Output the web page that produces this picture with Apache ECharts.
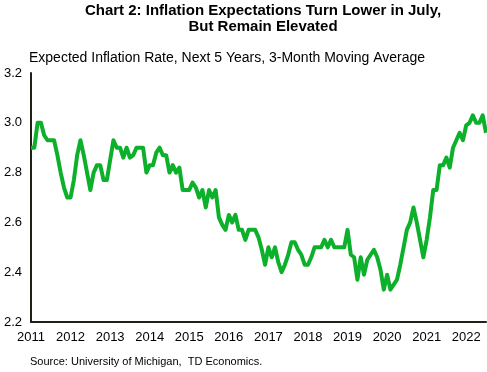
<!DOCTYPE html>
<html>
<head>
<meta charset="utf-8">
<script src="https://cdn.jsdelivr.net/npm/echarts@6/dist/echarts.min.js"></script>
<style>
html,body{margin:0;padding:0;background:#fff;}
#chart{width:487px;height:372px;}
</style>
</head>
<body>
<div id="chart"></div>
<script>
// Months Jan 2011 .. Jul 2022
var startYear = 2011;
var values2011 = [2.9, 2.9, 3.0, 3.0, 2.95, 2.93, 2.93, 2.93, 2.87, 2.8, 2.74, 2.7];
var values2012 = [2.7, 2.77, 2.87, 2.93, 2.87, 2.8, 2.73, 2.8, 2.83, 2.83, 2.77, 2.77];
var values2013 = [2.85, 2.93, 2.9, 2.9, 2.86, 2.9, 2.86, 2.87, 2.9, 2.9, 2.9, 2.8];
var values2014 = [2.83, 2.83, 2.88, 2.9, 2.87, 2.87, 2.8, 2.83, 2.8, 2.82, 2.73, 2.73];
var values2015 = [2.73, 2.76, 2.74, 2.7, 2.73, 2.66, 2.73, 2.7, 2.73, 2.62, 2.59, 2.57];
var values2016 = [2.63, 2.6, 2.63, 2.57, 2.57, 2.53, 2.57, 2.57, 2.57, 2.54, 2.49, 2.43];
var values2017 = [2.5, 2.46, 2.5, 2.44, 2.4, 2.43, 2.47, 2.52, 2.52, 2.49, 2.47, 2.43];
var values2018 = [2.43, 2.46, 2.5, 2.5, 2.5, 2.53, 2.5, 2.53, 2.5, 2.5, 2.5, 2.5];
var values2019 = [2.57, 2.47, 2.46, 2.37, 2.46, 2.39, 2.45, 2.47, 2.49, 2.46, 2.41, 2.33];
var values2020 = [2.39, 2.33, 2.35, 2.37, 2.43, 2.5, 2.57, 2.6, 2.66, 2.6, 2.53, 2.46];
var values2021 = [2.53, 2.62, 2.73, 2.73, 2.83, 2.83, 2.86, 2.82, 2.9, 2.93, 2.96, 2.93];
var values2022 = [2.99, 3.0, 3.03, 3.0, 3.0, 3.03, 2.96];
var yTicks = ["2.2", "2.4", "2.6", "2.8", "3.0", "3.2"];

var values = [].concat(values2011, values2012, values2013, values2014, values2015,
  values2016, values2017, values2018, values2019, values2020, values2021, values2022);
var months = values.map(function (v, i) {
  var y = startYear + Math.floor(i / 12);
  var m = (i % 12) + 1;
  return y + '-' + (m < 10 ? '0' + m : m);
});

var chart = echarts.init(document.getElementById('chart'));
var font = 'Arial, "Liberation Sans", sans-serif';
chart.setOption({
  animation: false,
  backgroundColor: '#fff',
  title: [{
    text: 'Chart 2: Inflation Expectations Turn Lower in July,\nBut Remain Elevated',
    left: 263, top: 3, textAlign: 'center', padding: 0,
    textStyle: {fontFamily: font, fontSize: 15, fontWeight: 'bold', color: '#000', lineHeight: 16}
  }, {
    text: 'Expected Inflation Rate, Next 5 Years, 3-Month Moving Average',
    left: 29, top: 51, padding: 0,
    textStyle: {fontFamily: font, fontSize: 14, fontWeight: 'normal', color: '#000'}
  }, {
    text: 'Source: University of Michigan,  TD Economics.',
    left: 30, top: 356, padding: 0,
    textStyle: {fontFamily: font, fontSize: 11, fontWeight: 'normal', color: '#000'}
  }],
  grid: {left: 31, right: 1, top: 73, bottom: 50, containLabel: false},
  xAxis: {
    type: 'category',
    data: months,
    boundaryGap: false,
    axisLine: {show: true, lineStyle: {color: '#1e2114', width: 2}},
    axisTick: {show: false},
    axisLabel: {
      interval: function (i) { return i % 12 === 0; },
      formatter: function (v) { return v.slice(0, 4); },
      fontFamily: font, fontSize: 13, color: '#000', margin: 9
    },
    splitLine: {show: false}
  },
  yAxis: {
    type: 'value',
    min: 2.2, max: 3.2, interval: 0.2,
    axisLine: {show: true, lineStyle: {color: '#1e2114', width: 2}},
    axisTick: {show: false},
    axisLabel: {
      formatter: function (v) { return yTicks[Math.round((v - 2.2) / 0.2)]; },
      fontFamily: font, fontSize: 13, color: '#000', margin: 9
    },
    splitLine: {show: false}
  },
  series: [{
    type: 'line',
    data: values,
    showSymbol: false,
    lineStyle: {color: '#0db02b', width: 4, join: 'round'},
    itemStyle: {color: '#0db02b'}
  }]
});
</script>
</body>
</html>
